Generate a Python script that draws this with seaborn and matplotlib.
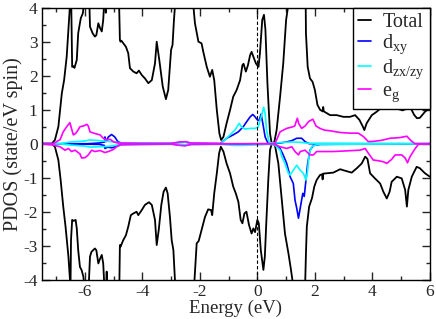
import matplotlib
matplotlib.use("Agg")
import matplotlib.pyplot as plt
import seaborn as sns
from matplotlib.ticker import MultipleLocator

# ---- data (energy in eV, PDOS in state/eV spin) ----
tot_up_e = [-7.5, -7.15, -7.04, -6.92, -6.80, -6.72, -6.63, -6.57, -6.52, -6.48,
            -6.44, -6.40, -6.36, -6.28, -6.23, -6.14, -6.07, -6.03, -5.93, -5.84,
            -5.82, -5.73, -5.65, -5.60, -5.53, -5.47, -5.41, -5.36, -5.33, -5.29,
            -5.27, -5.25, -5.05, -4.81, -4.78, -4.76, -4.73, -4.57, -4.49, -4.43,
            -4.31, -4.20, -4.12, -4.02, -3.91, -3.79, -3.67, -3.56, -3.50, -3.41,
            -3.29, -3.18, -3.10, -3.00, -2.95, -2.90, -2.86, -2.50, -2.23, -2.17,
            -2.05, -1.94, -1.88, -1.76, -1.65, -1.57, -1.50, -1.41, -1.32, -1.26,
            -1.18, -1.07, -0.95, -0.84, -0.72, -0.60, -0.52, -0.48, -0.40, -0.33,
            -0.25, -0.20, -0.14, -0.05, 0.04, 0.09, 0.17, 0.23, 0.28, 0.35,
            0.44, 0.50, 0.59, 0.67, 0.79, 0.90, 1.00, 1.05, 1.10, 1.40,
            1.68, 1.69, 1.75, 1.83, 1.92, 2.00, 2.09, 2.18, 2.27, 2.29,
            2.31, 2.53, 2.76, 2.99, 3.22, 3.40, 3.55, 3.67, 3.72, 3.80,
            3.98, 4.15, 4.40, 4.70, 4.90, 5.05, 5.20, 5.35, 5.45, 5.55,
            5.65, 5.83, 6.00]
tot_up_v = [0.0, 0.0, 0.11, 0.5, 1.48, 1.87, 2.56, 3.34, 4.0, 4.6,
            2.26, 2.28, 2.23, 2.46, 3.25, 3.69, 3.83, 4.1, 4.8, 4.1,
            3.44, 3.25, 3.15, 3.19, 3.54, 3.40, 3.30, 3.64, 4.1, 4.5,
            3.85, 4.5, 5.5, 4.2, 3.05, 3.0, 3.03, 2.85, 2.66, 2.22,
            2.12, 2.07, 2.15, 2.02, 1.92, 1.78, 1.87, 2.36, 3.0, 2.46,
            1.68, 1.31, 1.58, 2.76, 2.9, 3.64, 4.1, 5.5, 4.1, 3.54,
            3.0, 2.95, 2.7, 2.26, 1.97, 2.17, 1.87, 0.99, 0.3, 0.11,
            0.2, 0.6, 0.99, 1.38, 1.58, 1.87, 2.31, 2.35, 2.12, 2.3,
            2.61, 2.7, 2.56, 2.36, 2.26, 2.66, 3.64, 3.79, 3.36, 1.78,
            0.3, 0.0, 0.05, 0.4, 1.38, 2.36, 3.64, 3.93, 4.3, 5.5,
            4.2, 3.25, 2.26, 1.92, 1.82, 1.58, 1.14, 1.0, 0.95, 1.08,
            0.95, 0.84, 0.84, 0.79, 0.79, 0.84, 0.70, 0.50, 0.40, 0.60,
            0.84, 0.94, 1.12, 1.10, 1.02, 0.98, 1.03, 1.02, 0.85, 0.75,
            0.76, 0.94, 1.06]

tot_dn_e = [-7.5, -7.15, -7.04, -6.92, -6.84, -6.75, -6.67, -6.57, -6.52, -6.50,
            -6.48, -6.44, -6.39, -6.32, -6.28, -6.23, -6.17, -6.11, -6.05, -6.00,
            -5.86, -5.82, -5.77, -5.65, -5.60, -5.53, -5.47, -5.41, -5.36, -5.32,
            -5.26, -5.24, -5.22, -5.00, -4.80, -4.78, -4.76, -4.66, -4.57, -4.49,
            -4.40, -4.31, -4.20, -4.14, -4.02, -3.91, -3.77, -3.67, -3.56, -3.50,
            -3.43, -3.34, -3.26, -3.18, -3.12, -3.04, -2.98, -2.92, -2.86, -2.50,
            -2.20, -2.11, -2.04, -1.94, -1.82, -1.71, -1.61, -1.57, -1.50, -1.41,
            -1.33, -1.27, -1.18, -1.07, -0.95, -0.84, -0.75, -0.66, -0.58, -0.52,
            -0.45, -0.38, -0.29, -0.20, -0.14, -0.08, 0.00, 0.05, 0.12, 0.21,
            0.26, 0.31, 0.38, 0.44, 0.50, 0.61, 0.73, 0.85, 0.96, 1.08,
            1.17, 1.25, 1.45, 1.66, 1.69, 1.72, 1.80, 1.90, 1.98, 2.06,
            2.18, 2.25, 2.27, 2.29, 2.41, 2.64, 2.88, 2.99, 3.28, 3.46,
            3.63, 3.75, 3.83, 3.92, 4.09, 4.27, 4.38, 4.50, 4.60, 4.67,
            4.85, 5.02, 5.14, 5.20, 5.25, 5.37, 5.54, 5.65, 5.83, 6.00]
tot_dn_v = [0.0, 0.0, -0.09, -0.48, -1.07, -1.85, -2.44, -3.32, -3.95, -4.4,
            -2.83, -2.24, -2.27, -2.24, -2.49, -3.13, -3.62, -3.72, -3.91, -4.3,
            -4.1, -3.32, -3.18, -3.08, -3.13, -3.52, -3.38, -3.27, -3.52, -4.2,
            -4.3, -3.76, -4.3, -5.0, -4.2, -2.98, -3.03, -2.83, -2.69, -2.44,
            -2.1, -2.05, -2.0, -2.1, -1.95, -1.8, -1.72, -1.8, -2.24, -2.98,
            -2.54, -1.8, -1.41, -1.29, -1.46, -2.15, -2.83, -3.13, -4.1, -5.0,
            -4.2, -2.93, -2.86, -2.54, -2.15, -1.93, -1.95, -2.1, -1.46, -0.87,
            -0.28, -0.09, -0.23, -0.58, -0.87, -1.26, -1.46, -1.71, -2.24, -2.34,
            -2.05, -2.0, -2.39, -2.64, -2.49, -2.6, -2.24, -2.34, -3.13, -3.71,
            -3.32, -2.34, -1.07, -0.19, 0.0, -0.04, -0.58, -1.66, -2.64, -3.22,
            -3.71, -4.2, -5.0, -4.2, -3.22, -2.44, -1.85, -1.6, -1.26, -1.07,
            -0.92, -0.9, -1.05, -0.88, -0.87, -0.85, -0.75, -0.78, -0.85, -0.72,
            -0.58, -0.38, -0.45, -0.87, -1.02, -1.17, -1.41, -1.61, -1.41, -1.12,
            -0.97, -1.02, -1.36, -1.85, -1.36, -0.97, -0.68, -0.72, -0.87, -0.97]

dxy_up_e = [-7.5, -5.9, -5.5, -5.32, -5.30, -5.27, -5.18, -5.07, -4.96, -4.85,
            -4.7, -3.0, -2.7, -2.5, -2.3, -1.29, -1.07, -0.84, -0.66, -0.49,
            -0.37, -0.25, -0.16, -0.08, 0.0, 0.06, 0.13, 0.19, 0.27, 0.35,
            0.44, 0.79, 1.0, 1.2, 1.37, 1.54, 1.66, 1.8, 6.0]
dxy_up_v = [0.0, 0.0, 0.02, 0.05, 0.2, 0.06, 0.2, 0.27, 0.2, 0.06,
            0.01, 0.0, 0.04, 0.05, 0.01, 0.0, 0.16, 0.26, 0.35, 0.5,
            0.65, 0.79, 0.86, 0.79, 0.7, 0.68, 0.87, 0.6, 0.2, 0.05,
            0.0, 0.02, 0.05, 0.09, 0.16, 0.16, 0.06, 0.0, 0.0]
dxy_dn_e = [-7.5, -5.5, -5.32, -5.30, -5.2, -5.07, -4.9, -4.7, -3.0, -2.7,
            -2.5, -2.3, -1.3, -0.6, 0.0, 0.4, 0.6, 0.79, 0.90, 1.02,
            1.14, 1.25, 1.31, 1.37, 1.43, 1.51, 1.58, 1.63, 1.69, 1.75,
            1.83, 1.95, 2.2, 6.0]
dxy_dn_v = [0.0, -0.02, -0.05, -0.14, -0.1, -0.12, -0.08, -0.02, 0.0, -0.04,
            -0.05, -0.01, 0.0, -0.02, -0.02, -0.01, 0.0, -0.14, -0.33, -0.58,
            -0.97, -1.17, -1.66, -1.9, -2.19, -1.8, -1.46, -1.55, -1.07, -0.58,
            -0.19, -0.05, -0.02, 0.0]

dzx_up_e = [-7.5, -6.9, -6.5, -6.0, -5.82, -5.5, -5.2, -4.8, -3.0, -2.7,
            -2.5, -2.3, -1.26, -1.07, -0.95, -0.78, -0.63, -0.55, -0.43, -0.25,
            -0.08, 0.03, 0.10, 0.15, 0.22, 0.27, 0.32, 0.41, 0.6, 0.9,
            1.2, 1.5, 1.8, 6.0]
dzx_up_v = [0.0, 0.0, 0.05, 0.08, 0.11, 0.09, 0.07, 0.03, 0.02, 0.03,
            0.04, 0.02, 0.0, 0.16, 0.26, 0.4, 0.6, 0.49, 0.43, 0.45,
            0.45, 0.49, 0.7, 0.84, 1.07, 0.89, 0.4, 0.03, 0.02, 0.04,
            0.05, 0.04, 0.01, 0.0]
dzx_dn_e = [-7.5, -6.9, -6.5, -6.0, -5.82, -5.5, -5.2, -4.8, -3.0, -2.5,
            -1.3, -0.8, -0.5, 0.0, 0.4, 0.6, 0.79, 0.85, 0.96, 1.08,
            1.14, 1.25, 1.37, 1.49, 1.6, 1.69, 1.75, 1.8, 1.9, 2.1,
            6.0]
dzx_dn_v = [0.0, 0.0, -0.04, -0.07, -0.1, -0.09, -0.08, -0.03, -0.02, -0.03,
            -0.02, -0.05, -0.05, -0.03, -0.02, -0.03, -0.19, -0.38, -0.58, -0.87,
            -0.92, -0.78, -0.63, -0.78, -0.87, -1.07, -0.78, -0.28, -0.08, -0.02,
            0.0]

eg_up_e = [-7.5, -7.1, -6.86, -6.75, -6.63, -6.52, -6.40, -6.32, -6.23, -6.17,
           -6.05, -5.93, -5.88, -5.82, -5.65, -5.47, -5.36, -5.24, -5.12, -5.01,
           -4.85, -4.0, -3.0, -2.7, -2.5, -2.3, -1.5, -1.0, 0.0, 0.61,
           0.79, 1.02, 1.20, 1.30, 1.39, 1.44, 1.54, 1.66, 1.78, 1.93,
           2.04, 2.18, 2.33, 2.53, 2.88, 3.22, 3.51, 3.69, 3.86, 4.04,
           4.33, 4.61, 4.96, 5.20, 5.33, 5.48, 6.0]
eg_up_v = [0.0, 0.0, 0.12, 0.35, 0.5, 0.62, 0.26, 0.3, 0.41, 0.5,
           0.52, 0.57, 0.52, 0.35, 0.3, 0.26, 0.16, 0.11, 0.13, 0.06,
           0.02, 0.01, 0.01, 0.05, 0.06, 0.02, 0.01, 0.0, 0.0, 0.0,
           0.35, 0.45, 0.49, 0.52, 0.75, 0.59, 0.45, 0.52, 0.65, 0.72,
           0.52, 0.45, 0.4, 0.38, 0.33, 0.31, 0.31, 0.21, 0.06, 0.07,
           0.1, 0.16, 0.18, 0.22, 0.1, 0.0, 0.0]
eg_dn_e = [-7.5, -7.1, -6.86, -6.69, -6.57, -6.46, -6.34, -6.17, -6.11, -5.99,
           -5.88, -5.76, -5.65, -5.47, -5.30, -5.18, -5.01, -4.88, -4.79, -3.0,
           -2.7, -2.5, -2.3, 0.0, 0.56, 0.79, 1.02, 1.20, 1.31, 1.43,
           1.49, 1.66, 1.83, 1.95, 2.06, 2.29, 2.64, 3.11, 3.57, 3.75,
           3.86, 4.03, 4.21, 4.38, 4.50, 4.67, 4.79, 5.02, 5.14, 5.22,
           5.31, 5.49, 5.60, 6.0]
eg_dn_v = [0.0, -0.04, -0.09, -0.19, -0.14, -0.23, -0.19, -0.3, -0.42, -0.41,
           -0.33, -0.19, -0.23, -0.2, -0.26, -0.23, -0.17, -0.08, -0.03, -0.01,
           -0.05, -0.06, -0.02, 0.0, 0.0, -0.09, -0.14, -0.09, -0.23, -0.33,
           -0.23, -0.19, -0.33, -0.33, -0.23, -0.23, -0.23, -0.21, -0.19, -0.14,
           -0.28, -0.48, -0.5, -0.53, -0.58, -0.46, -0.33, -0.33, -0.42, -0.56,
           -0.38, -0.14, -0.02, 0.0]

labels = ["Total", r"d$_{\rm xy}$", r"d$_{\rm zx/zy}$", r"e$_{\rm g}$"]
colors = ["black", "#0000ff", "#00ffff", "#ff00ff"]

sns.set_style("ticks")
plt.rcParams["font.family"] = ["Liberation Serif", "DejaVu Serif"]
plt.rcParams["mathtext.fontset"] = "custom"
plt.rcParams["mathtext.rm"] = "Liberation Serif"
plt.rcParams["mathtext.it"] = "Liberation Serif:italic"
plt.rcParams["axes.unicode_minus"] = False

fig = plt.figure(figsize=(4.36, 3.19), dpi=100)
ax = fig.add_axes([0.0956, 0.123, 0.8904, 0.853])

series = [
  (tot_up_e, tot_up_v, tot_dn_e, tot_dn_v),
  (dxy_up_e, dxy_up_v, dxy_dn_e, dxy_dn_v),
  (dzx_up_e, dzx_up_v, dzx_dn_e, dzx_dn_v),
  (eg_up_e, eg_up_v, eg_dn_e, eg_dn_v),
]
for (ue, uv, de, dv), lab, col in zip(series, labels, colors):
  lw = 1.3 if col == "black" else 1.2
  sns.lineplot(x=ue, y=uv, color=col, lw=lw, ax=ax, estimator=None,
               sort=False, label=lab)
  sns.lineplot(x=de, y=dv, color=col, lw=lw, ax=ax, estimator=None,
               sort=False)

ax.axvline(0, color="black", lw=0.8, ls=(0, (3, 2)))

ax.set_xlim(-7.5, 6)
ax.set_ylim(-4, 4)
ax.xaxis.set_major_locator(MultipleLocator(2))
ax.xaxis.set_minor_locator(MultipleLocator(1))
ax.yaxis.set_major_locator(MultipleLocator(1))
ax.yaxis.set_minor_locator(MultipleLocator(0.5))
ax.tick_params(which="both", direction="in", top=True, right=True,
               labelsize=12.5, width=1, pad=3)
ax.tick_params(which="major", length=6)
ax.tick_params(which="minor", length=3)
for sp in ax.spines.values():
  sp.set_linewidth(1.0)
  sp.set_color("black")

ax.set_xlabel("Energy (eV)", fontsize=13.5, labelpad=0)
ax.set_ylabel("PDOS (state/eV spin)", fontsize=14.5, labelpad=0)

handles, labs = ax.get_legend_handles_labels()
leg = ax.legend(handles[:4], labs[:4], loc="upper right", borderaxespad=0,
                fontsize=14.5, frameon=True, fancybox=False, framealpha=1,
                edgecolor="black", handlelength=0.65, handletextpad=0.55,
                borderpad=0.25, labelspacing=0.05)
leg.get_frame().set_linewidth(1.0)

fig.savefig("out.png", dpi=100)
